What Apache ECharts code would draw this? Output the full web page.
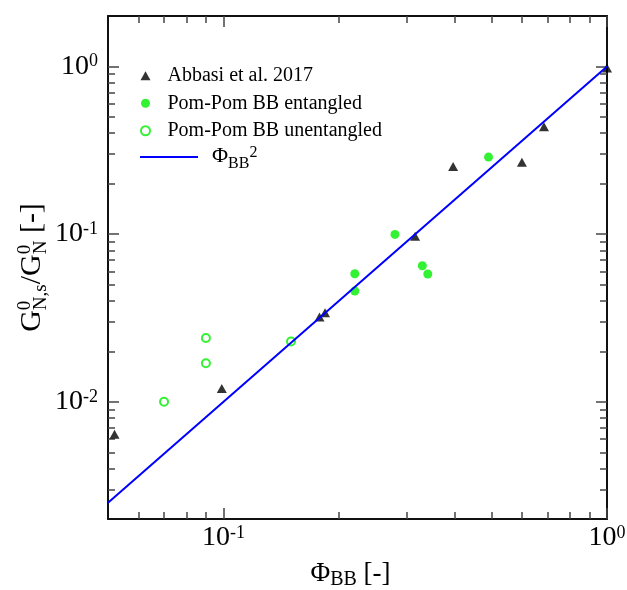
<!DOCTYPE html>
<html><head><meta charset="utf-8">
<script src="https://cdn.jsdelivr.net/npm/echarts@6/dist/echarts.min.js"></script>
<style>html,body{margin:0;padding:0;background:#fff}#c{width:627px;height:590px}</style>
</head><body><div id="c"></div>
<script>
// ---- data ----
const abbasiX = [0.052, 0.099, 0.178, 0.184, 0.316, 0.397, 0.600, 0.685, 1.0];
const abbasiY = [0.0064, 0.012, 0.032, 0.034, 0.097, 0.253, 0.268, 0.437, 0.98];
const entX = [0.22, 0.22, 0.28, 0.33, 0.341, 0.491];
const entY = [0.058, 0.0458, 0.0996, 0.0648, 0.0578, 0.288];
const unentX = [0.07, 0.09, 0.09, 0.15];
const unentY = [0.010, 0.024, 0.017, 0.0229];
const lineX = [0.05, 1.0];
const lineY = [0.0025, 1.0];

const seriesNames = ['Abbasi et al. 2017', 'Pom-Pom BB entangled', 'Pom-Pom BB unentangled', 'PhiBB2'];

const xMajorTicks = [0.1, 1];
const xMinorTicks = [0.06, 0.07, 0.08, 0.09, 0.2, 0.3, 0.4, 0.5, 0.6, 0.7, 0.8, 0.9];
const yMajorTicks = [0.01, 0.1, 1];
const yMinorTicks = [0.003, 0.004, 0.005, 0.006, 0.007, 0.008, 0.009,
  0.02, 0.03, 0.04, 0.05, 0.06, 0.07, 0.08, 0.09,
  0.2, 0.3, 0.4, 0.5, 0.6, 0.7, 0.8, 0.9];
const xTickExponents = ['-1', '0'];
const yTickExponents = ['-2', '-1', '0'];

const xTitleParts = ['\u03A6', 'BB', ' [-]'];
const yTitleMain = ['G', '/G', ' [-]'];
const yTitleSup = ['0', '0'];
const yTitleSub = ['N,s', 'N'];
const legendLineParts = ['\u03A6', 'BB', '2'];

// ---- styling ----
const FONT = '"Liberation Serif", "Times New Roman", serif';
const GREEN = '#00ee00';
const zip = (a, b) => a.map((v, i) => [v, b[i]]);
const tickRich = {
  m: { fontSize: 28, lineHeight: 28, fontFamily: FONT, color: '#000', verticalAlign: 'top' },
  s: { fontSize: 18, lineHeight: 18, fontFamily: FONT, color: '#000', verticalAlign: 'top' }
};
function tickFmt(majors, exps) {
  return function (v) {
    const lv = Math.log10(v);
    let idx = 0, best = 1e9;
    majors.forEach((m, i) => { const d = Math.abs(Math.log10(m) - lv); if (d < best) { best = d; idx = i; } });
    return '{m|10}{s|' + exps[idx] + '}';
  };
}
const lineCol = '#111', tickCol = '#444';

function mkAxis(kind, pos, ticks, len, opts) {
  const isX = kind === 'x';
  const a = {
    type: 'log', logBase: 10, position: pos,
    min: isX ? 0.05 : 0.002, max: isX ? 1 : 2,
    gridIndex: 0,
    splitLine: { show: false }, minorTick: { show: false }, minorSplitLine: { show: false },
    axisLine: { show: !!opts.line, onZero: false, lineStyle: { color: lineCol, width: 2 } },
    axisTick: { show: true, inside: true, length: len, customValues: ticks, lineStyle: { color: tickCol, width: 1.5 } },
    axisLabel: { show: false },
    axisPointer: { show: false }
  };
  if (opts.labels) {
    a.axisLabel = {
      show: true, customValues: isX ? xMajorTicks : yMajorTicks,
      margin: isX ? 5 : 10,
      formatter: isX ? tickFmt(xMajorTicks, xTickExponents) : tickFmt(yMajorTicks, yTickExponents),
      rich: tickRich, showMinLabel: true, showMaxLabel: true
    };
  }
  return a;
}

const xAxes = [
  mkAxis('x', 'bottom', xMajorTicks, 11, { line: true, labels: true }),
  mkAxis('x', 'bottom', xMinorTicks, 7, {}),
  mkAxis('x', 'top', xMajorTicks, 11, { line: true }),
  mkAxis('x', 'top', xMinorTicks, 7, {})
];
const yAxes = [
  mkAxis('y', 'left', yMajorTicks, 11, { line: true, labels: true }),
  mkAxis('y', 'left', yMinorTicks, 7, {}),
  mkAxis('y', 'right', yMajorTicks, 11, { line: true }),
  mkAxis('y', 'right', yMinorTicks, 7, {})
];
xAxes[0].name = '{m|' + xTitleParts[0] + '}{s|' + xTitleParts[1] + '}{m|' + xTitleParts[2] + '}';
xAxes[0].nameLocation = 'middle';
xAxes[0].nameGap = 41;
xAxes[0].nameTextStyle = {
  padding: [0, 14, 0, 0],
  rich: {
    m: { fontSize: 27, lineHeight: 28, fontFamily: FONT, color: '#000', verticalAlign: 'top' },
    s: { fontSize: 20, lineHeight: 20, fontFamily: FONT, color: '#000', verticalAlign: 'top', padding: [10, 0, 0, 0] }
  }
};

// y title built from measured pieces (stacked super/subscripts)
const meas = document.createElement('canvas').getContext('2d');
function tw(t, size) { meas.font = size + 'px ' + FONT; return meas.measureText(t).width; }
const yChildren = [];
let u = 0;
yTitleMain.forEach((t, i) => {
  yChildren.push({ type: 'text', x: u, y: 0, style: { text: t, font: '30px ' + FONT, fill: '#000', align: 'left', verticalAlign: 'middle' } });
  u += tw(t, 30);
  if (i < yTitleSup.length) {
    yChildren.push({ type: 'text', x: u, y: -7, style: { text: yTitleSup[i], font: '19px ' + FONT, fill: '#000', align: 'left', verticalAlign: 'middle' } });
    yChildren.push({ type: 'text', x: u, y: 9, style: { text: yTitleSub[i], font: '19px ' + FONT, fill: '#000', align: 'left', verticalAlign: 'middle' } });
    u += Math.max(tw(yTitleSup[i], 19), tw(yTitleSub[i], 19));
  }
});

const chart = echarts.init(document.getElementById('c'), null, { renderer: 'canvas' });
chart.setOption({
  animation: false,
  backgroundColor: '#fff',
  grid: { left: 108, right: 20, top: 16, bottom: 71, containLabel: false, outerBoundsMode: 'none' },
  xAxis: xAxes,
  yAxis: yAxes,
  legend: [
    {
      data: seriesNames.slice(0, 3), orient: 'vertical', left: 140, top: 62, padding: 0,
      itemWidth: 10, itemHeight: 9, itemGap: 0, selectedMode: false,
      textStyle: { fontFamily: FONT, fontSize: 20, lineHeight: 27.5, color: '#000', padding: [0, 0, 0, 12] }
    },
    {
      data: [{ name: seriesNames[3], icon: 'rect' }], orient: 'vertical', left: 140, top: 145, padding: 0,
      itemWidth: 58, itemHeight: 2, selectedMode: false,
      formatter: () => '{a|' + legendLineParts[0] + '}{b|' + legendLineParts[1] + '}{c|' + legendLineParts[2] + '}',
      textStyle: {
        padding: [0, 0, 0, 9],
        rich: {
          a: { fontSize: 22, lineHeight: 24, fontFamily: FONT, color: '#000', verticalAlign: 'top' },
          b: { fontSize: 16, lineHeight: 16, fontFamily: FONT, color: '#000', verticalAlign: 'top', padding: [11, 0, 0, 0] },
          c: { fontSize: 16, lineHeight: 16, fontFamily: FONT, color: '#000', verticalAlign: 'top' }
        }
      }
    }
  ],
  graphic: [{ type: 'group', x: 32, y: 267.5 + u / 2, rotation: Math.PI / 2, children: yChildren }],
  series: [
    { name: seriesNames[0], type: 'scatter', symbol: 'triangle', symbolSize: [10, 9], clip: false,
      itemStyle: { color: '#000' }, data: zip(abbasiX, abbasiY), z: 3 },
    { name: seriesNames[1], type: 'scatter', symbol: 'circle', symbolSize: 9, clip: false,
      itemStyle: { color: GREEN }, data: zip(entX, entY), z: 3 },
    { name: seriesNames[2], type: 'scatter', symbol: 'emptyCircle', symbolSize: 8, clip: false,
      itemStyle: { color: GREEN, borderColor: GREEN, borderWidth: 1.5 }, data: zip(unentX, unentY), z: 3 },
    { name: seriesNames[3], type: 'line', symbol: 'none', showSymbol: false,
      lineStyle: { color: '#0000ff', width: 2 }, itemStyle: { color: '#0000ff' },
      data: zip(lineX, lineY), z: 4 }
  ]
});
</script>
</body></html>
